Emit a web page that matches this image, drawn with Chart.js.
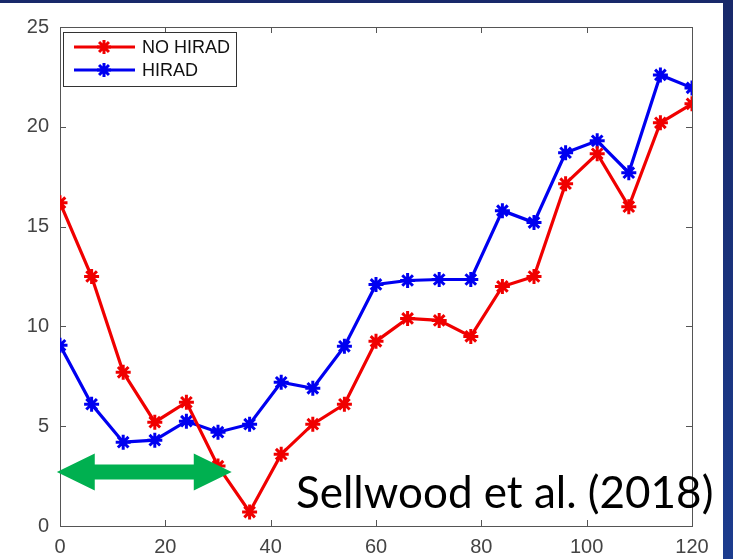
<!DOCTYPE html>
<html lang="en">
<head>
  <meta charset="UTF-8" />
  <title>HIRAD vs NO HIRAD</title>
  <script src="https://cdn.jsdelivr.net/npm/chart.js"></script>
  <style>
    body { margin: 0; background: #1a3076; }
    #wrap { width: 733px; height: 559px; }
  </style>
</head>
<body>
  <div id="wrap"><canvas id="hiradChart" width="733" height="559"></canvas></div>

  <script>
    // forecast hour and error for both runs
    const hours = [0, 6, 12, 18, 24, 30, 36, 42, 48, 54, 60, 66, 72, 78, 84, 90, 96, 102, 108, 114, 120];
    const noHirad = [16.2, 12.5, 7.7, 5.2, 6.2, 3.0, 0.7, 3.6, 5.1, 6.1, 9.25, 10.4, 10.3, 9.5, 12.0, 12.5, 17.15, 18.65, 16.0, 20.2, 21.15];
    const hirad = [9.05, 6.1, 4.2, 4.3, 5.25, 4.7, 5.1, 7.2, 6.9, 9.0, 12.1, 12.3, 12.35, 12.35, 15.8, 15.2, 18.7, 19.3, 17.7, 22.6, 21.95];
    const xTicks = [0, 20, 40, 60, 80, 100, 120];
    const yTicks = [0, 5, 10, 15, 20, 25];
    const seriesNames = ["NO HIRAD", "HIRAD"];
    const seriesColors = ["#f00000", "#0000f0"];
    const citation = "Sellwood et al. (2018)";

    // green double arrow, x in hours, y in error units
    const arrowSpan = { from: -0.6, to: 32.6, y: 2.7, head: 7.2 };

    const toPoints = ys => ys.map((y, i) => ({ x: hours[i], y }));

    function drawStar(c, x, y, r) {
      const d = r * Math.SQRT1_2;
      c.beginPath();
      c.moveTo(x - r, y); c.lineTo(x + r, y);
      c.moveTo(x, y - r); c.lineTo(x, y + r);
      c.moveTo(x - d, y - d); c.lineTo(x + d, y + d);
      c.moveTo(x - d, y + d); c.lineTo(x + d, y - d);
      c.stroke();
    }

    const frame = {
      id: "frame",
      beforeDraw(chart) {
        const c = chart.ctx;
        c.save();
        const g = c.createLinearGradient(0, 0, 0, chart.height);
        g.addColorStop(0, "#18296a");
        g.addColorStop(1, "#1c3c8e");
        c.fillStyle = g;
        c.fillRect(0, 0, chart.width, chart.height);
        c.fillStyle = "#ffffff";
        c.fillRect(0, 3, 723, chart.height - 3);
        c.restore();
      },
      beforeDatasetsDraw(chart) {
        const { ctx: c, chartArea: a, scales } = chart;
        c.save();
        c.strokeStyle = "#555555";
        c.lineWidth = 1;
        c.strokeRect(a.left + 0.5, a.top + 0.5, a.right - a.left, a.bottom - a.top);
        c.beginPath();
        xTicks.forEach(v => {
          const px = Math.round(scales.x.getPixelForValue(v)) + 0.5;
          c.moveTo(px, a.bottom); c.lineTo(px, a.bottom - 6);
          c.moveTo(px, a.top); c.lineTo(px, a.top + 6);
        });
        yTicks.forEach(v => {
          const py = Math.round(scales.y.getPixelForValue(v)) + 0.5;
          c.moveTo(a.left, py); c.lineTo(a.left + 6, py);
          c.moveTo(a.right, py); c.lineTo(a.right - 6, py);
        });
        c.stroke();
        c.restore();
      },
      afterDraw(chart) {
        const { ctx: c, scales } = chart;
        c.save();

        // legend box in the upper left corner
        c.fillStyle = "#ffffff";
        c.fillRect(63, 32, 173, 54);
        c.strokeStyle = "#333333";
        c.lineWidth = 1;
        c.strokeRect(63.5, 32.5, 173, 54);
        chart.data.datasets.forEach((ds, i) => {
          const y = 47 + i * 23;
          c.strokeStyle = ds.borderColor;
          c.lineWidth = 3.2;
          c.beginPath(); c.moveTo(74, y); c.lineTo(135, y); c.stroke();
          c.lineWidth = 3;
          drawStar(c, 104, y, 7);
          c.fillStyle = "#111111";
          c.font = "18px 'Liberation Sans', Arial, sans-serif";
          c.textBaseline = "middle";
          c.fillText(ds.label, 142, y + 1);
        });

        // double arrow
        const x1 = scales.x.getPixelForValue(arrowSpan.from);
        const x2 = scales.x.getPixelForValue(arrowSpan.to);
        const yc = scales.y.getPixelForValue(arrowSpan.y);
        const hb = scales.x.getPixelForValue(arrowSpan.head) - scales.x.getPixelForValue(0);
        const hw = 18.5, sw = 7.5;
        c.fillStyle = "#00b050";
        c.beginPath();
        c.moveTo(x1, yc);
        c.lineTo(x1 + hb, yc - hw);
        c.lineTo(x1 + hb, yc - sw);
        c.lineTo(x2 - hb, yc - sw);
        c.lineTo(x2 - hb, yc - hw);
        c.lineTo(x2, yc);
        c.lineTo(x2 - hb, yc + hw);
        c.lineTo(x2 - hb, yc + sw);
        c.lineTo(x1 + hb, yc + sw);
        c.lineTo(x1 + hb, yc + hw);
        c.closePath();
        c.fill();

        // citation
        c.fillStyle = "#000000";
        c.font = "44px Lato, 'Open Sans', sans-serif";
        c.textBaseline = "alphabetic";
        c.fillText(citation, 296, 508);
        c.restore();
      }
    };

    const makeSet = (i, ys) => ({
      label: seriesNames[i],
      data: toPoints(ys),
      borderColor: seriesColors[i],
      backgroundColor: seriesColors[i],
      borderWidth: 3.2,
      pointStyle: "star",
      pointRadius: 7.5,
      pointBorderWidth: 3,
      pointHoverRadius: 7.5,
      tension: 0
    });

    new Chart(document.getElementById("hiradChart").getContext("2d"), {
      type: "line",
      data: { datasets: [makeSet(0, noHirad), makeSet(1, hirad)] },
      options: {
        responsive: false,
        animation: false,
        layout: { padding: { top: 27, right: 41, left: 0, bottom: 0 } },
        plugins: { legend: { display: false }, tooltip: { enabled: false } },
        scales: {
          x: {
            type: "linear", min: 0, max: 120,
            afterBuildTicks: s => { s.ticks = xTicks.map(v => ({ value: v })); },
            afterFit: s => { s.height = 33; },
            grid: { display: false, drawTicks: false },
            border: { display: false },
            ticks: { color: "#444444", padding: 9, font: { family: "'Liberation Sans', Arial", size: 20 } }
          },
          y: {
            min: 0, max: 25,
            afterBuildTicks: s => { s.ticks = yTicks.map(v => ({ value: v })); },
            afterFit: s => { s.width = 60; },
            grid: { display: false, drawTicks: false },
            border: { display: false },
            ticks: { color: "#444444", padding: 11, font: { family: "'Liberation Sans', Arial", size: 20 } }
          }
        }
      },
      plugins: [frame]
    });
  </script>
</body>
</html>
